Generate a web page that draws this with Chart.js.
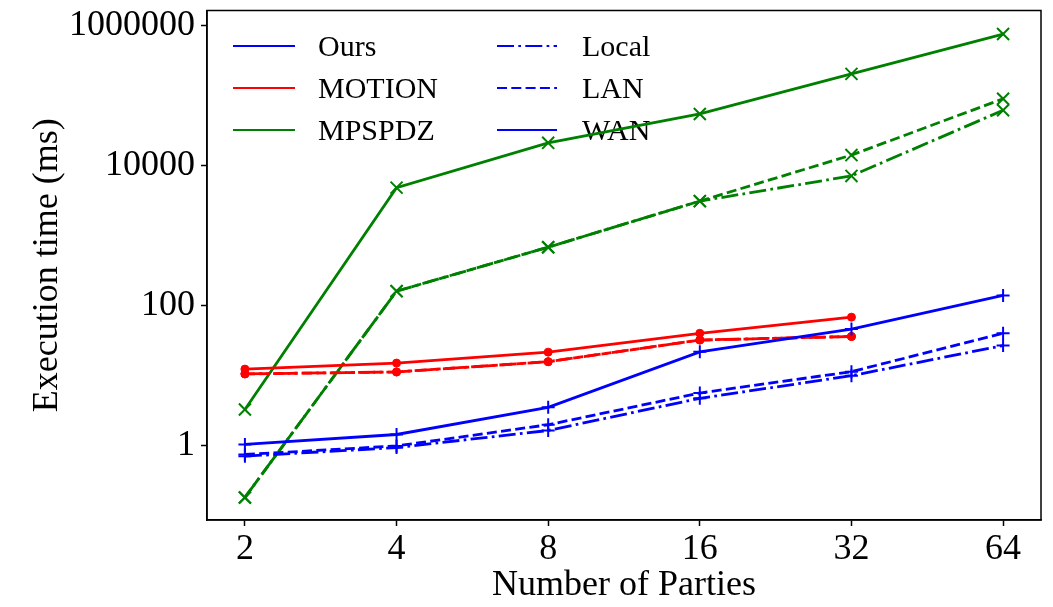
<!DOCTYPE html>
<html lang="en">
<head>
  <meta charset="UTF-8">
  <title>Execution time vs parties</title>
  <script src="https://cdn.jsdelivr.net/npm/chart.js"></script>
  <style>
    body { margin: 0; background: #fff; }
    #chart-container { width: 1053px; height: 607px; }
  </style>
</head>
<body>
  <div id="chart-container">
    <canvas id="timeChart"></canvas>
  </div>

  <script>
    // Number of parties (x) and tick labels
    const parties = [2, 4, 8, 16, 32, 64];
    const yTicks = [1, 100, 10000, 1000000];

    // Execution time (ms)
    const oursWAN   = [1.03, 1.43, 3.5, 21.7, 46, 139];
    const oursLAN   = [0.74, 0.98, 1.97, 5.6, 11.3, 40];
    const oursLocal = [0.70, 0.93, 1.63, 4.7, 9.9, 26.7];

    const motionWAN   = [12.3, 15, 21.5, 40, 68];
    const motionLAN   = [10.5, 11.2, 15.7, 32, 36];
    const motionLocal = [10.5, 11.2, 15.7, 32, 36];

    const mpspdzWAN   = [3.25, 4830, 21100, 54600, 204000, 757000];
    const mpspdzLAN   = [0.18, 160, 680, 3100, 14100, 90000];
    const mpspdzLocal = [0.18, 160, 680, 3100, 7100, 61600];

    const DASHED = [10, 4.3];
    const DASHDOT = [17, 4.3, 2.7, 4.3];

    // legend entries: [label, color, dash]
    const legendLeft  = [["Ours", "blue", []], ["MOTION", "red", []], ["MPSPDZ", "green", []]];
    const legendRight = [["Local", "blue", DASHDOT], ["LAN", "blue", DASHED], ["WAN", "blue", []]];

    function series(label, values, color, dash, marker) {
      return {
        label: label,
        data: values.map((v, i) => ({ x: parties[i], y: v })),
        borderColor: color,
        backgroundColor: color,
        borderWidth: 2.8,
        borderDash: dash,
        pointStyle: marker,
        pointRadius: marker === "circle" ? 4 : (marker === "cross" ? 6.5 : 8.5),
        pointBorderWidth: marker === "circle" ? 1 : 2,
        pointBorderColor: color,
        pointBackgroundColor: color,
        tension: 0
      };
    }

    // box around the plot and the custom two-column legend
    const framePlugin = {
      id: "frame",
      beforeDatasetsDraw(chart) {
        const ctx = chart.ctx;
        ctx.save();
        ctx.font = "30px 'Liberation Serif', 'Times New Roman', serif";
        ctx.textBaseline = "middle";
        const rows = [46, 88, 130];
        const cols = [[233, 295, 318, legendLeft], [497, 557, 582, legendRight]];
        cols.forEach(([x0, x1, tx, items]) => {
          items.forEach(([label, color, dash], i) => {
            const y = rows[i];
            ctx.strokeStyle = color;
            ctx.lineWidth = 2.2;
            ctx.setLineDash(dash);
            ctx.beginPath();
            ctx.moveTo(x0, y);
            ctx.lineTo(x1, y);
            ctx.stroke();
            ctx.setLineDash([]);
            ctx.fillStyle = "#000";
            ctx.fillText(label, tx, y + 2);
          });
        });
        ctx.restore();
      },
      afterDraw(chart) {
        const ctx = chart.ctx;
        const a = chart.chartArea;
        ctx.save();
        ctx.strokeStyle = "#000";
        ctx.lineWidth = 1.5;
        ctx.strokeRect(a.left, a.top, a.right - a.left, a.bottom - a.top);
        ctx.restore();
      }
    };

    const font = { family: "'Liberation Serif', 'Times New Roman', serif", size: 36 };

    new Chart(document.getElementById("timeChart"), {
      type: "line",
      data: {
        datasets: [
          series("Ours WAN", oursWAN, "blue", [], "cross"),
          series("Ours LAN", oursLAN, "blue", DASHED, "cross"),
          series("Ours Local", oursLocal, "blue", DASHDOT, "cross"),
          series("MOTION WAN", motionWAN, "red", [], "circle"),
          series("MOTION LAN", motionLAN, "red", DASHED, "circle"),
          series("MOTION Local", motionLocal, "red", DASHDOT, "circle"),
          series("MPSPDZ WAN", mpspdzWAN, "green", [], "crossRot"),
          series("MPSPDZ LAN", mpspdzLAN, "green", DASHED, "crossRot"),
          series("MPSPDZ Local", mpspdzLocal, "green", DASHDOT, "crossRot")
        ]
      },
      options: {
        responsive: true,
        maintainAspectRatio: false,
        animation: false,
        layout: { padding: { top: 8, right: 12, left: 0, bottom: 0 } },
        plugins: {
          legend: { display: false },
          tooltip: { enabled: false }
        },
        scales: {
          x: {
            type: "logarithmic",
            min: Math.pow(2, 0.75),
            max: Math.pow(2, 6.25),
            afterBuildTicks: s => { s.ticks = parties.map(v => ({ value: v })); },
            afterFit: s => { s.height = 87; s.paddingLeft = 0; s.paddingRight = 0; },
            ticks: {
              autoSkip: false,
              maxRotation: 0,
              color: "#000",
              font: font,
              padding: 2,
              callback: v => String(v)
            },
            grid: { drawOnChartArea: false, drawTicks: true, tickLength: 6, color: "#000", tickWidth: 1.5 },
            border: { display: true, color: "#000", width: 1.5 },
            title: {
              display: true,
              text: "Number of Parties",
              color: "#000",
              font: font,
              padding: { top: 0, bottom: 0 }
            }
          },
          y: {
            type: "logarithmic",
            min: 0.0857,
            max: 1644000,
            afterBuildTicks: s => { s.ticks = yTicks.map(v => ({ value: v })); },
            afterFit: s => { s.width = 207; s.paddingTop = 0; s.paddingBottom = 0; },
            ticks: {
              autoSkip: false,
              color: "#000",
              font: font,
              padding: 6,
              callback: v => String(v)
            },
            grid: { drawOnChartArea: false, drawTicks: true, tickLength: 6, color: "#000", tickWidth: 1.5 },
            border: { display: true, color: "#000", width: 1.5 },
            title: {
              display: true,
              text: "Execution time (ms)",
              color: "#000",
              font: font,
              padding: { top: 26, bottom: 0 }
            }
          }
        }
      },
      plugins: [framePlugin]
    });
  </script>
</body>
</html>
